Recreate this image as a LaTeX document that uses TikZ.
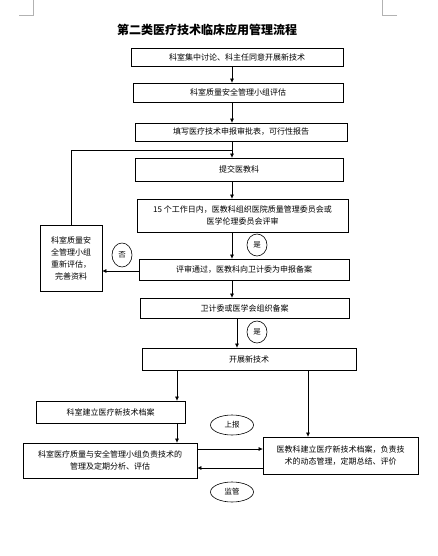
\documentclass[tikz,border=0pt]{standalone}
\usepackage{fontspec}
\setmainfont{Noto Sans CJK SC}
\usetikzlibrary{shapes.geometric,arrows.meta}

\begin{document}
\begin{tikzpicture}[x=1pt,y=-1pt,%
		   stepbox/.style={draw,line width=0.8pt,align=center,inner sep=0pt,font=\fontsize{8}{12}\selectfont},
		   answer/.style={draw,ellipse,line width=0.6pt,inner sep=0pt,font=\fontsize{7.5}{8}\selectfont},
		   flow/.style={-{Triangle[length=4pt,width=3.5pt]},line width=0.7pt},
		   cornerline/.style={gray!60,line width=0.5pt}]

	\useasboundingbox (0,0) rectangle (437,556);

	% page corners
	\draw[cornerline] (19,15.5) -- (33,15.5) -- (33,0);
	\draw[cornerline] (397,15.5) -- (382,15.5) -- (382,0);

	\node[font=\bfseries\fontsize{12}{14}\selectfont] (title) at (207,30) {第二类医疗技术临床应用管理流程};

	% main column
	\foreach \name/\cx/\cy/\w/\h/\desc in {%
	   b1/237/57/212/18/科室集中讨论、科主任同意开展新技术,%
	   b2/238/92.5/210/19/科室质量安全管理小组评估,%
	   b3/241/132/212/18/填写医疗技术申报审批表，可行性报告,%
	   b4/239/169.5/208/23/提交医教科,%
	   b5/242.5/215.5/211/33/{15 个工作日内，医教科组织医院质量管理委员会或\\医学伦理委员会评审},%
	   b6/244/269.5/210/21/评审通过，医教科向卫计委为申报备案,%
	   b7/244.5/308/209/20/卫计委或医学会组织备案,%
	   b8/249/359/214/22/开展新技术,%
	   b9/110.5/412/149/22/科室建立医疗新技术档案,%
	   b10/110/460.5/174/35/{科室医疗质量与安全管理小组负责技术的\\管理及定期分析、评估},%
	   b11/340.5/455.5/155/37/{医教科建立医疗新技术档案，负责技\\术的动态管理，定期总结、评价}%
	   } { \node[stepbox,minimum width=\w,minimum height=\h] (\name) at (\cx,\cy) {\desc}; }

	\node[stepbox,minimum width=62,minimum height=66] (redo) at (71,258) {科室质量安\\全管理小组\\重新评估，\\完善资料};

	\node[answer,minimum width=20,minimum height=22] (yes1) at (257,245) {是};
	\node[answer,minimum width=20,minimum height=24] (no) at (122,255) {否};
	\node[answer,minimum width=20,minimum height=22] (yes2) at (257,332) {是};
	\node[answer,minimum width=43,minimum height=20] (report) at (232,425) {上报};
	\node[answer,minimum width=43,minimum height=20] (watch) at (232,492) {监管};

	\coordinate (ax) at (232,0);
	\coordinate (bx) at (237,0);
	\coordinate (lx) at (177,0);
	\coordinate (rx) at (308,0);
	\coordinate (join) at (232,150);

	\foreach \a/\b in {b1/b2,b2/b3,b3/b4,b4/b5,b5/b6,b6/b7}
	   \draw[flow] (\a.south -| ax) -- (\b.north -| ax);
	\draw[flow] (b7.south -| bx) -- (b8.north -| bx);

	% not approved
	\draw[flow] (b6.west |- 0,271) -- (redo.east |- 0,271);
	\draw[line width=0.7pt] (redo.north) |- (join);

	\draw[flow] (b8.south -| lx) -- (b9.north -| lx);
	\draw[flow] (b9.south -| lx) -- (b10.north -| lx);
	\draw[flow] (b8.south -| rx) -- (b11.north -| rx);

	\draw[flow] (b10.east |- 0,449) -- (b11.west |- 0,449);
	\draw[flow] (b11.west |- 0,468) -- (b10.east |- 0,468);

\end{tikzpicture}
\end{document}
